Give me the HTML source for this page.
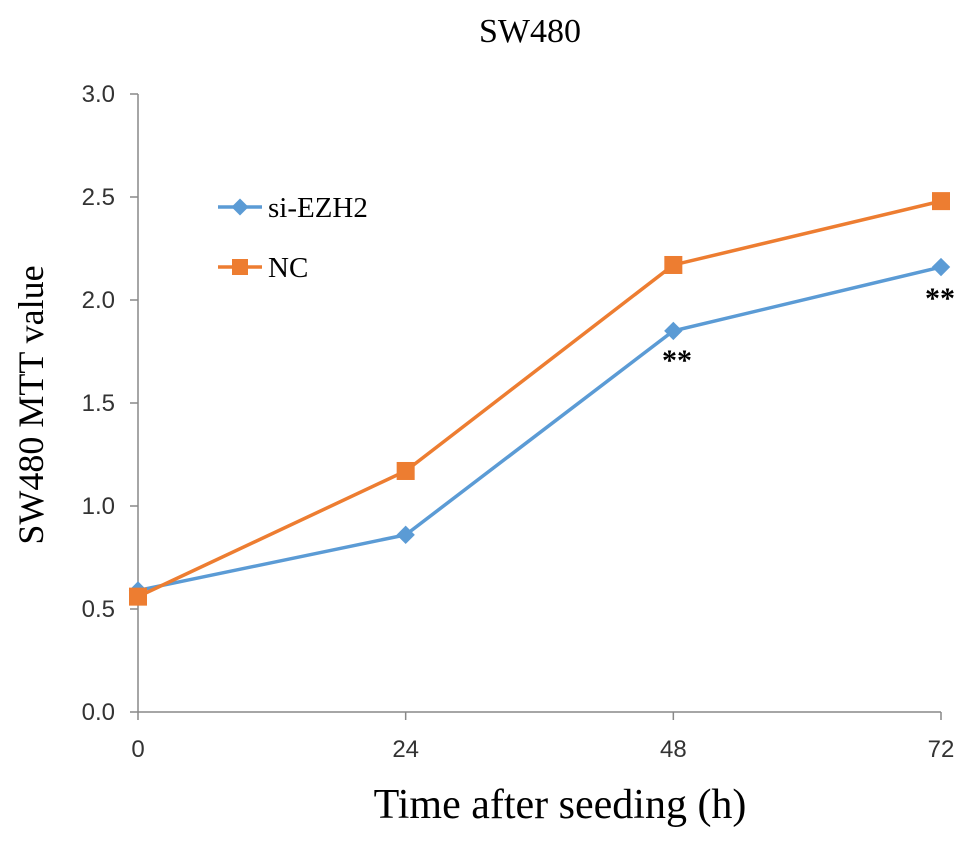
<!DOCTYPE html>
<html><head><meta charset="utf-8"><style>
body{margin:0;background:#fff;}
svg{display:block;}
</style></head><body>
<svg id="chart" width="969" height="849" viewBox="0 0 969 849" xmlns="http://www.w3.org/2000/svg">
<text x="530" y="42" text-anchor="middle" font-family="Liberation Serif, serif" font-size="34">SW480</text>
<text transform="translate(43,405) rotate(-90)" text-anchor="middle" font-family="Liberation Serif, serif" font-size="36">SW480 MTT value</text>
<text x="560" y="818" text-anchor="middle" font-family="Liberation Serif, serif" font-size="42">Time after seeding (h)</text>
<g id="axes"></g>
<g id="series"></g>
<g>
<g>
<line x1="218" y1="207" x2="262" y2="207" stroke="#5b9bd5" stroke-width="3.5"/>
<rect x="234" y="201" width="12" height="12" fill="#5b9bd5" transform="rotate(45 240 207)"/>
<text x="268" y="217" font-family="Liberation Serif, serif" font-size="29">si-EZH2</text>
</g>
<g>
<line x1="218" y1="267" x2="262" y2="267" stroke="#ed7d31" stroke-width="3.5"/>
<rect x="232" y="259" width="16" height="16" fill="#ed7d31"/>
<text x="268" y="277" font-family="Liberation Serif, serif" font-size="29">NC</text>
</g>
</g>
<text x="677" y="370" text-anchor="middle" font-family="Liberation Serif, serif" font-weight="bold" font-size="30">**</text>
<text x="940" y="308" text-anchor="middle" font-family="Liberation Serif, serif" font-weight="bold" font-size="30">**</text>
</svg>
<script>
const categories=[0,24,48,72];
const siEZH2=[0.59,0.86,1.85,2.16];
const nc=[0.56,1.17,2.17,2.48];
const yTicks=["0.0","0.5","1.0","1.5","2.0","2.5","3.0"];
const NS="http://www.w3.org/2000/svg";
const xS=v=>138+(v/72)*803;
const yS=v=>712-(v/3)*618;
function mk(tag,attrs,parent){const e=document.createElementNS(NS,tag);for(const k in attrs)e.setAttribute(k,attrs[k]);parent.appendChild(e);return e;}
const axes=document.getElementById('axes');
let l=mk('line',{x1:138,y1:yS(3),x2:138,y2:712,stroke:'#888','stroke-width':1.5},axes);


l=mk('line',{x1:138,y1:712,x2:941,y2:712,stroke:'#888','stroke-width':1.5},axes);


yTicks.forEach(t=>{const y=yS(parseFloat(t));
 const tk=mk('line',{x1:130,y1:y,x2:138,y2:y,stroke:'#888','stroke-width':1.5},axes);
 
 
 const tx=mk('text',{x:115,y:y+8,'text-anchor':'end','font-family':'Liberation Sans, sans-serif','font-size':24,fill:'#333'},axes);
 tx.textContent=t;
 
 
});
categories.forEach(c=>{const x=xS(c);
 const tk=mk('line',{x1:x,y1:712,x2:x,y2:720,stroke:'#888','stroke-width':1.5},axes);
 
 
 const tx=mk('text',{x:x,y:757,'text-anchor':'middle','font-family':'Liberation Sans, sans-serif','font-size':24,fill:'#333'},axes);
 tx.textContent=c;
 
 
});
const sg=document.getElementById('series');
function series(vals,color,name,marker){
 const p=mk('polyline',{points:vals.map((v,i)=>xS(categories[i])+','+yS(v)).join(' '),fill:'none',stroke:color,'stroke-width':3.5},sg);
 
 
 vals.forEach((v,i)=>{const x=xS(categories[i]),y=yS(v);let m;
  if(marker==='d'){m=mk('rect',{x:x-6.5,y:y-6.5,width:13,height:13,fill:color,transform:`rotate(45 ${x} ${y})`},sg);}
  else{m=mk('rect',{x:x-9,y:y-9,width:18,height:18,fill:color},sg);}
  
  
 });
}
series(siEZH2,'#5b9bd5','si-ezh2','d');
series(nc,'#ed7d31','nc','s');
</script>
</body></html>
